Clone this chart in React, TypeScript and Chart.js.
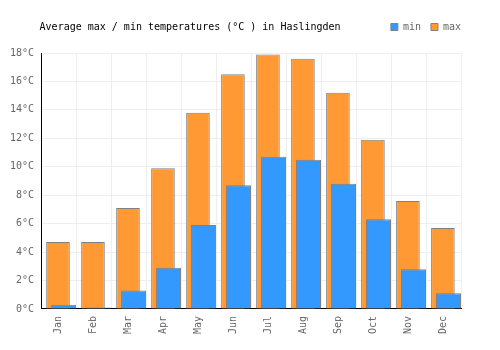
import React, { useEffect, useRef } from 'react';
import { Chart, registerables } from 'chart.js';

Chart.register(...registerables);

const titleText = 'Average max / min temperatures (°C ) in Haslingden';
const months = ['Jan', 'Feb', 'Mar', 'Apr', 'May', 'Jun', 'Jul', 'Aug', 'Sep', 'Oct', 'Nov', 'Dec'];
const minTemps = [0.3, 0.1, 1.3, 2.9, 5.9, 8.7, 10.7, 10.5, 8.8, 6.3, 2.8, 1.1];
const maxTemps = [4.7, 4.7, 7.1, 9.9, 13.8, 16.5, 17.9, 17.6, 15.2, 11.9, 7.6, 5.7];
const yMin = 0;
const yMax = 18;
const yStep = 2;

const FONT = "'DejaVu Sans Mono', monospace";

const shiftPlugin = {
  id: 'barShift',
  afterDatasetsUpdate(chart: any) {
    const xs = chart.scales.x;
    const w = (xs.right - xs.left) / months.length;
    chart.getDatasetMeta(0).data.forEach((el: any) => { el.x += w * 0.143; });
    chart.getDatasetMeta(1).data.forEach((el: any) => { el.x -= w * 0.017; });
  },
};

const legendSpacePlugin = {
  id: 'legendSpace',
  beforeLayout(chart: any) {
    const lg = chart.legend;
    if (lg && !lg.__patched) {
      const orig = lg.fit.bind(lg);
      lg.fit = function () {
        orig();
        this.height += 11;
      };
      lg.__patched = true;
    }
  },
  afterLayout(chart: any) {
    const lg = chart.legend;
    if (lg) {
      lg.left += 10;
      lg.right += 10;
    }
  },
};

const titlePlugin = {
  id: 'leftTitle',
  afterDraw(chart: any) {
    const ctx = chart.ctx;
    ctx.save();
    ctx.font = `10px ${FONT}`;
    ctx.fillStyle = '#000';
    ctx.textBaseline = 'middle';
    ctx.textAlign = 'left';
    ctx.fillText(titleText, chart.chartArea.left - 1.5, 27);
    ctx.restore();
  },
};

export default function App() {
  const ref = useRef<HTMLCanvasElement>(null);
  useEffect(() => {
    if (!ref.current) return;
    const chart = new Chart(ref.current, {
      type: 'bar',
      data: {
        labels: months,
        datasets: [
          {
            label: 'min',
            data: minTemps,
            backgroundColor: '#3399ff',
            borderColor: '#808080',
            borderWidth: 1,
            grouped: false,
            categoryPercentage: 1,
            barPercentage: 0.714,
          },
          {
            label: 'max',
            data: maxTemps,
            backgroundColor: '#ff9933',
            borderColor: '#808080',
            borderWidth: 1,
            grouped: false,
            categoryPercentage: 1,
            barPercentage: 0.675,
          },
        ],
      },
      options: {
        animation: false,
        responsive: false,
        maintainAspectRatio: false,
        layout: { padding: { left: 3, right: 39, top: 12, bottom: 9 } },
        plugins: {
          legend: {
            position: 'top',
            align: 'end',
            labels: {
              boxWidth: 7,
              boxHeight: 7,
              padding: 10,
              color: '#666',
              font: { family: FONT, size: 10 },
            },
          },
          title: { display: false },
          tooltip: { enabled: false },
        },
        scales: {
          x: {
            grid: { color: '#eeeeee', offset: true, drawTicks: false },
            border: { color: '#000', width: 1 },
            ticks: {
              minRotation: 90,
              maxRotation: 90,
              padding: 7,
              color: '#666',
              font: { family: FONT, size: 10 },
            },
          },
          y: {
            min: yMin,
            max: yMax,
            grid: { color: '#eeeeee', drawTicks: false },
            border: { color: '#000', width: 1 },
            ticks: {
              stepSize: yStep,
              padding: 7,
              color: '#666',
              font: { family: FONT, size: 10 },
              callback: (v: any) => `${v}°C`,
            },
          },
        },
      },
      plugins: [shiftPlugin, legendSpacePlugin, titlePlugin],
    });
    return () => chart.destroy();
  }, []);
  return (
    <div style={{ position: 'absolute', left: 0, top: 0, width: 500, height: 350 }}>
      <canvas ref={ref} width={500} height={350} />
    </div>
  );
}
